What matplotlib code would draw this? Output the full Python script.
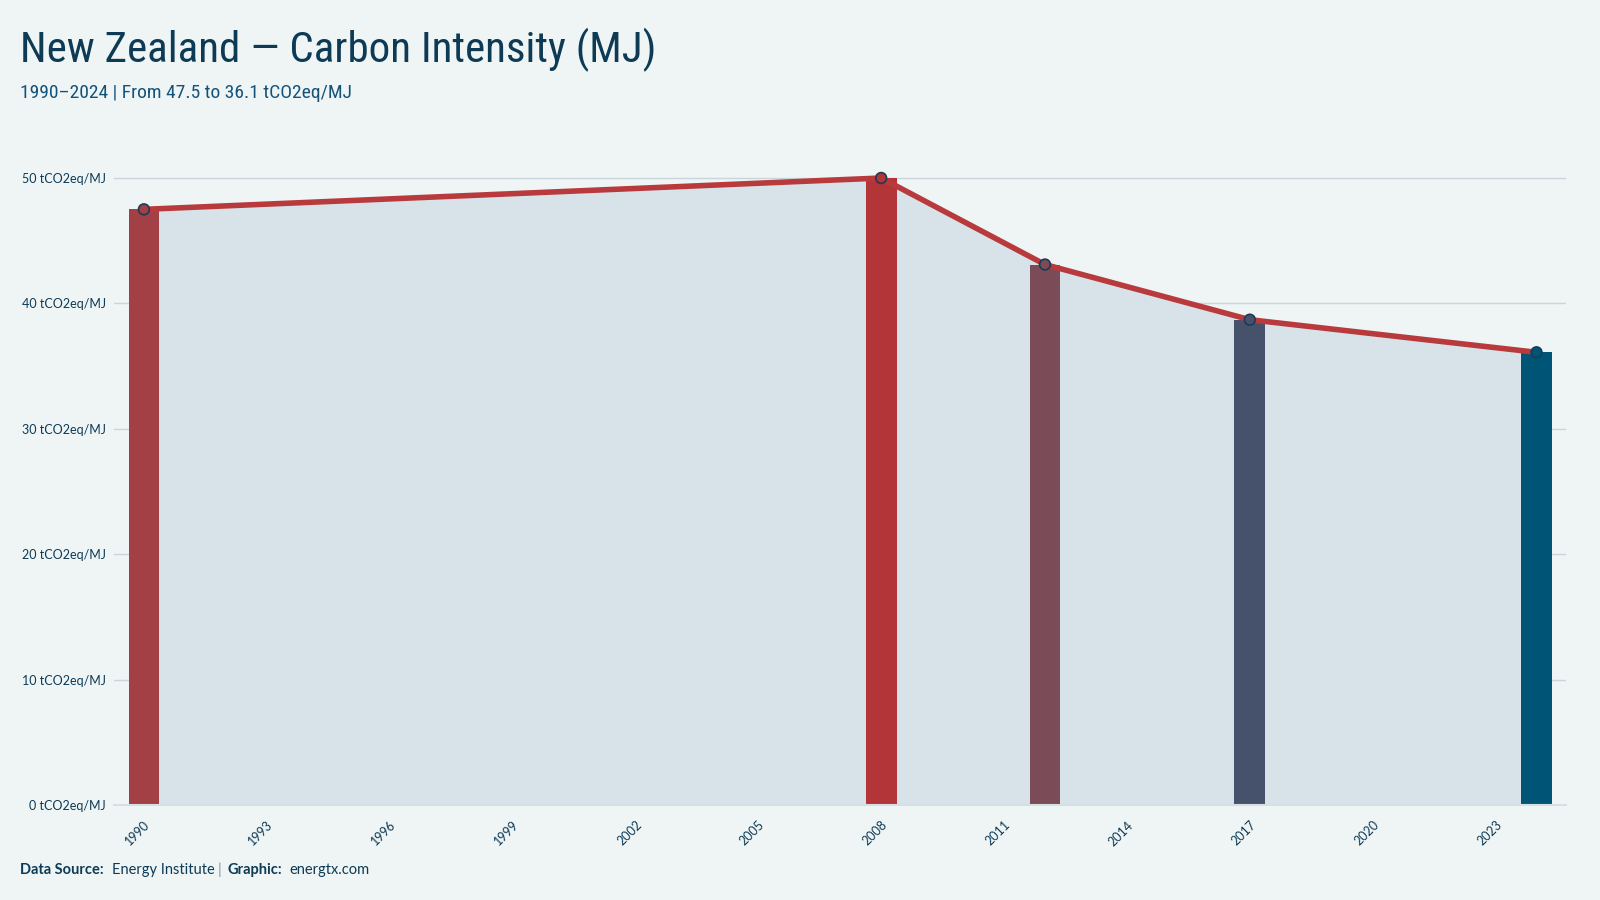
import matplotlib.pyplot as plt
import numpy as np
from matplotlib import font_manager

years = [1990, 2008, 2012, 2017, 2024]
values = [47.5, 50.0, 43.1, 38.7, 36.1]
bar_colors = ['#a34045', '#b33538', '#7b4b58', '#46526b', '#005577']
xtick_years = list(range(1990, 2024, 3))
ytick_vals = [0, 10, 20, 30, 40, 50]

bg = '#eff5f5'
navy = '#0d3a55'
line_red = '#b83a3c'
fill_col = '#d7e3e8'

# pick a narrow face for the title if there is one
names = {f.name for f in font_manager.fontManager.ttflist}
narrow = [n for n in ['Liberation Sans Narrow', 'Roboto Condensed', 'Open Sans Condensed']
          if n in names]
if narrow:
    title_font, title_size, sub_size = narrow[0], 31, 14
else:
    title_font, title_size, sub_size = 'Roboto', 28, 12.5
body_font = 'Lato'
plt.rcParams['font.family'] = [body_font, 'DejaVu Sans']

fig = plt.figure(figsize=(16, 9), dpi=100, facecolor=bg)
ax = fig.add_axes([114 / 1600, 1 - 805 / 900, (1566 - 114) / 1600, (805 - 165) / 900])
ax.set_facecolor(bg)

ax.fill_between(years, values, 0, color=fill_col, zorder=1, lw=0)
ax.bar(years, values, width=0.75, color=bar_colors, zorder=2)
ax.plot(years, values, color=line_red, lw=4, zorder=3, solid_capstyle='round')
ax.scatter(years, values, s=60, c=bar_colors, edgecolors='#1c3a55', linewidths=1.2, zorder=4)

ax.set_xlim(1989.27, 2024.72)
ax.set_ylim(0, 50 * (805 - 165) / (805 - 178))
ax.set_yticks(ytick_vals)
ax.set_yticklabels([f'{v} tCO2eq/MJ' for v in ytick_vals], fontsize=9, color=navy)
ax.set_xticks(xtick_years)
ax.set_xticklabels([str(y) for y in xtick_years], rotation=45, fontsize=9, color=navy,
                   ha='right', rotation_mode='anchor')
ax.tick_params(axis='both', length=0, pad=6)
ax.tick_params(axis='x', pad=10)
ax.grid(axis='y', color='#c9d5da', lw=1, zorder=0)
ax.set_axisbelow(True)
for s in ['top', 'right', 'left']:
    ax.spines[s].set_visible(False)
ax.spines['bottom'].set_color('#d5e0e4')
ax.spines['bottom'].set_linewidth(1.5)

fig.text(20 / 1600, 1 - 50 / 900, 'New Zealand — Carbon Intensity (MJ)', fontsize=title_size,
         color=navy, family=[title_font, 'DejaVu Sans'], va='center')
fig.text(20 / 1600, 1 - 93 / 900, '1990–2024 | From 47.5 to 36.1 tCO2eq/MJ', fontsize=sub_size,
         color='#14527a', family=[title_font, 'DejaVu Sans'], va='center')

fy = 1 - 870 / 900
fig.text(20 / 1600, fy, 'Data Source:', fontsize=10.5, color=navy, weight='bold', va='center')
fig.text(112 / 1600, fy, 'Energy Institute', fontsize=10.5, color=navy, va='center')
fig.text(218 / 1600, fy, '|', fontsize=10.5, color='#7a93a3', va='center')
fig.text(228 / 1600, fy, 'Graphic:', fontsize=10.5, color=navy, weight='bold', va='center')
fig.text(289 / 1600, fy, 'energtx.com', fontsize=10.5, color=navy, va='center')

fig.savefig('out.png', dpi=100, facecolor=bg)
